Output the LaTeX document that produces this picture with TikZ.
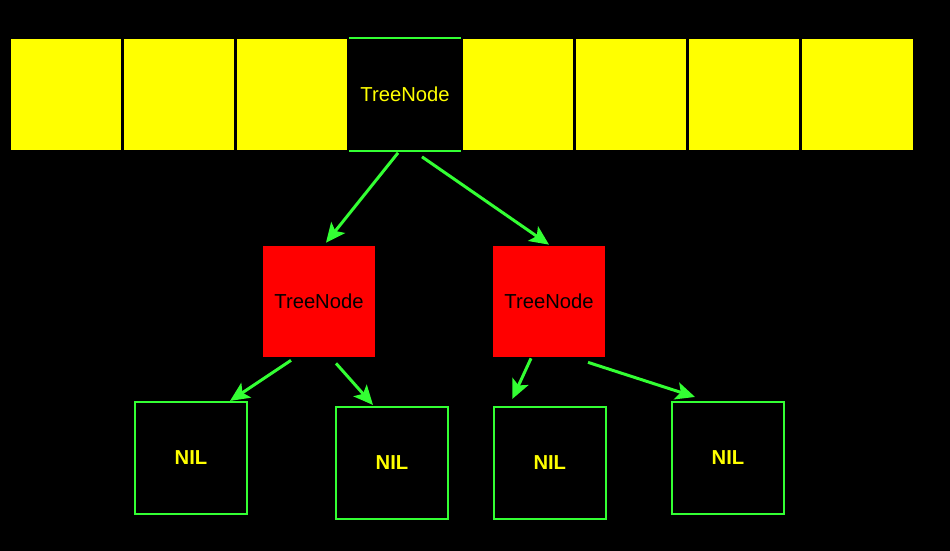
\documentclass[tikz,border=0pt]{standalone}
\usepackage{fontspec}
\setmainfont{Liberation Sans}
\usetikzlibrary{calc,arrows.meta}

\definecolor{cellyellow}{RGB}{255,255,0}
\definecolor{linkgreen}{RGB}{51,255,51}
\definecolor{nodered}{RGB}{255,0,0}

\tikzset{
    cell/.style={fill=cellyellow, inner sep=0, minimum width=2.22cm, minimum height=2.22cm},
    treebox/.style={fill=nodered, inner sep=0, minimum width=2.24cm, minimum height=2.22cm,
        font=\fontsize{11.5}{13}\selectfont, text=black},
    nilbox/.style={draw=linkgreen, line width=1.2pt, inner sep=0, minimum size=2.24cm,
        font=\fontsize{11.5}{13}\selectfont\bfseries, text=cellyellow},
    link/.style={linkgreen, line width=1.7pt, -{Stealth[length=11pt, width=10pt, inset=2.5pt]}},
}

\begin{document}
\begin{tikzpicture}[x=0.02cm, y=-0.02cm]
    \fill[black] (0, 0) rectangle (950, 551);
    \useasboundingbox (0, 0) rectangle (950, 551);
    \foreach \i in {0, 1, 2, 4, 5, 6, 7} {
        \node[cell] (c\i) at (66 + 113*\i, 94.5) {};
    }
    \node[inner sep=0, minimum width=2.22cm, minimum height=2.24cm, text=cellyellow,
        font=\fontsize{11.5}{13}\selectfont] (tn) at (405, 94.5) {TreeNode};
    \draw[linkgreen, line width=1.1pt] (tn.north west) -- (tn.north east);
    \draw[linkgreen, line width=1.1pt] (tn.south west) -- (tn.south east);
    \node[treebox] (l) at (319, 301.5) {TreeNode};
    \node[treebox] (r) at (549, 301.5) {TreeNode};
    \node[nilbox] (n1) at (191, 458) {NIL};
    \node[nilbox] (n2) at (392, 463) {NIL};
    \node[nilbox] (n3) at (549.8, 463) {NIL};
    \node[nilbox] (n4) at (728, 458) {NIL};
    \draw[link] ($(tn.south) + (-7, 2)$) -- ($(l.north) + (7, -3)$);
    \draw[link] ($(tn.south) + (17, 6)$) -- ($(r.north) + (0, -1)$);
    \draw[link] ($(l.south) + (-28, 3)$) -- ($(n1.north) + (39, 0)$);
    \draw[link] ($(l.south) + (17, 6)$) -- ($(n2.north) + (-19, -1)$);
    \draw[link] ($(r.south) + (-18, 1)$) -- ($(n3.north) + (-37.5, -7)$);
    \draw[link] ($(r.south) + (39, 5)$) -- ($(n4.north) + (-33, -4)$);
\end{tikzpicture}
\end{document}
